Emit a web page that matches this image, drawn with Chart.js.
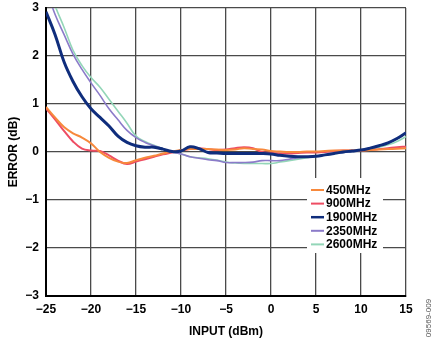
<!DOCTYPE html>
<html>
<head>
<meta charset="utf-8">
<script src="https://cdn.jsdelivr.net/npm/chart.js@4.4.1/dist/chart.umd.min.js"></script>
<style>
  html, body { margin: 0; padding: 0; background: #fff; }
  #wrap { position: relative; width: 435px; height: 339px; }
</style>
</head>
<body>
<div id="wrap"><canvas id="chart" width="435" height="339"></canvas></div>
<script>
// input power (dBm), one sample per dB
const inputs = [-25, -24, -23, -22, -21, -20, -19, -18, -17, -16, -15, -14, -13, -12, -11, -10, -9, -8, -7, -6,
  -5, -4, -3, -2, -1, 0, 1, 2, 3, 4, 5, 6, 7, 8, 9, 10, 11, 12, 13, 14, 15];

// error (dB) per frequency
const err450 = [0.94, 0.72, 0.52, 0.39, 0.30, 0.18, 0.00, -0.12, -0.20, -0.23, -0.17, -0.12, -0.08, -0.03, 0.01, 0.04, 0.06, 0.06, 0.06, 0.05,
  0.04, 0.05, 0.08, 0.06, 0.05, 0.02, 0.01, 0.00, 0.00, 0.01, 0.01, 0.02, 0.03, 0.03, 0.03, 0.03, 0.04, 0.05, 0.06, 0.07, 0.08];
const err900 = [0.91, 0.68, 0.44, 0.22, 0.07, 0.03, 0.02, -0.07, -0.18, -0.25, -0.20, -0.15, -0.10, -0.05, -0.01, 0.03, 0.06, 0.08, 0.06, 0.04,
  0.05, 0.08, 0.10, 0.08, 0.00, -0.02, -0.03, -0.03, -0.02, -0.01, -0.01, 0.00, 0.02, 0.03, 0.03, 0.03, 0.04, 0.06, 0.08, 0.10, 0.11];
const err1900 = [2.92, 2.45, 1.88, 1.47, 1.15, 0.90, 0.72, 0.54, 0.33, 0.20, 0.13, 0.10, 0.10, 0.06, 0.01, 0.02, 0.11, 0.07, -0.01, -0.02,
  -0.03, -0.03, -0.03, -0.03, -0.03, -0.04, -0.07, -0.09, -0.10, -0.10, -0.09, -0.06, -0.03, 0.00, 0.02, 0.04, 0.08, 0.13, 0.19, 0.28, 0.40];
const err2350 = [3.40, 2.87, 2.45, 2.04, 1.72, 1.44, 1.18, 0.90, 0.67, 0.45, 0.30, 0.20, 0.13, 0.07, 0.00, -0.04, -0.10, -0.13, -0.16, -0.18,
  -0.22, -0.22, -0.22, -0.21, -0.18, -0.18, -0.18, -0.15, -0.12, -0.10, -0.08, -0.06, -0.03, -0.01, 0.01, 0.03, 0.08, 0.13, 0.19, 0.28, 0.40];
const err2600 = [3.60, 3.05, 2.60, 2.12, 1.80, 1.55, 1.35, 1.10, 0.85, 0.60, 0.33, 0.22, 0.14, 0.07, 0.00, -0.04, -0.10, -0.12, -0.14, -0.17,
  -0.21, -0.23, -0.24, -0.24, -0.24, -0.24, -0.21, -0.18, -0.15, -0.12, -0.09, -0.06, -0.04, -0.01, 0.01, 0.03, 0.06, 0.10, 0.15, 0.22, 0.32];

const seriesLabels = ['450MHz', '900MHz', '1900MHz', '2350MHz', '2600MHz'];
const seriesColors = ['#f7893c', '#ee4d63', '#0f2d7c', '#8b7bc9', '#93d6b8'];
const seriesWidths = [2, 2, 3, 1.6, 1.6];
const seriesOrder = [2, 3, 1, 4, 5];
const seriesData = [err450, err900, err1900, err2350, err2600];

const FONT = 'Arial, "Liberation Sans", sans-serif';

// legend box inside plot + figure id on the right edge
const overlay = {
  id: 'overlay',
  afterDatasetsDraw(chart) {
    const ctx = chart.ctx;
    const x0 = 307, y0 = 178, w = 76, h = 75;
    ctx.save();
    ctx.fillStyle = '#fff';
    ctx.fillRect(x0, y0, w, h);
    ctx.font = 'bold 12px ' + FONT;
    ctx.textBaseline = 'middle';
    seriesLabels.forEach((lab, i) => {
      const y = 190 + i * 13.6;
      ctx.strokeStyle = seriesColors[i];
      ctx.lineWidth = i === 2 ? 2.5 : 2;
      ctx.beginPath();
      ctx.moveTo(311, y);
      ctx.lineTo(324, y);
      ctx.stroke();
      ctx.fillStyle = '#000';
      ctx.fillText(lab, 326, y + 0.5);
    });
    ctx.restore();
  },
  afterDraw(chart) {
    const ctx = chart.ctx;
    ctx.save();
    ctx.translate(429, 318);
    ctx.rotate(-Math.PI / 2);
    ctx.font = '8px ' + FONT;
    ctx.fillStyle = '#555';
    ctx.textAlign = 'center';
    ctx.textBaseline = 'middle';
    ctx.fillText('09569-009', 0, 0);
    ctx.restore();
  }
};

const minus = v => String(v).replace('-', '\u2212');

new Chart(document.getElementById('chart'), {
  type: 'line',
  data: {
    datasets: seriesData.map((vals, i) => ({
      label: seriesLabels[i],
      data: inputs.map((x, k) => ({ x, y: vals[k] })),
      borderColor: seriesColors[i],
      borderWidth: seriesWidths[i],
      pointRadius: 0,
      tension: 0.4,
      fill: false,
      order: seriesOrder[i],
    })),
  },
  options: {
    responsive: false,
    animation: false,
    layout: { padding: { top: 8, right: 29, left: 0, bottom: 0 } },
    plugins: { legend: { display: false }, tooltip: { enabled: false } },
    scales: {
      x: {
        type: 'linear', min: -25, max: 15,
        afterFit: s => { s.height = 43; },
        ticks: { stepSize: 5, padding: 6, color: '#000', font: { family: FONT, size: 12, weight: 'bold' }, callback: minus },
        grid: { color: '#4a4a4a', lineWidth: 1.3, drawTicks: false },
        border: { color: '#000', width: 2 },
        title: { display: true, text: 'INPUT (dBm)', color: '#000', font: { family: FONT, size: 12, weight: 'bold' }, padding: { top: 4, bottom: 0 } },
      },
      y: {
        min: -3, max: 3,
        afterFit: s => { s.width = 46; s.paddingTop = 0; s.paddingBottom = 0; },
        ticks: { stepSize: 1, padding: 7, color: '#000', font: { family: FONT, size: 12, weight: 'bold' }, callback: minus },
        grid: { color: '#4a4a4a', lineWidth: 1.3, drawTicks: false },
        border: { color: '#000', width: 2 },
        title: { display: true, text: 'ERROR (dB)', color: '#000', font: { family: FONT, size: 12, weight: 'bold' }, padding: { top: 6, bottom: 0 } },
      },
    },
  },
  plugins: [overlay],
});
</script>
</body>
</html>
